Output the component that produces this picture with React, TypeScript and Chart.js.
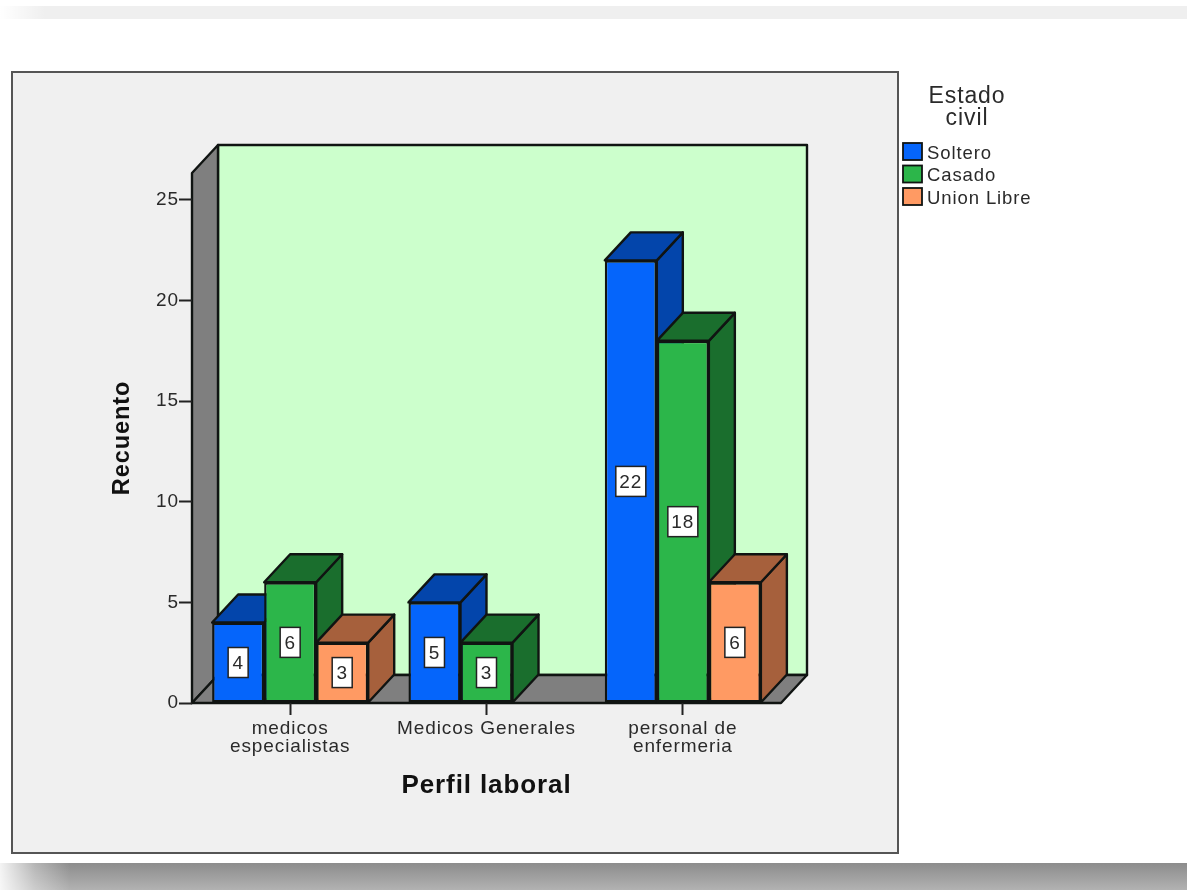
import { useEffect, useRef } from "react";
import { Chart, registerables } from "chart.js";

Chart.register(...registerables);

// Chart content
const categories = [["medicos", "especialistas"], "Medicos Generales", ["personal de", "enfermeria"]];
const soltero = [4, 5, 22];
const casado = [6, 3, 18];
const unionLibre = [3, null, 6];
const seriesNames = ["Soltero", "Casado", "Union Libre"];
const legendTitle = ["Estado", "civil"];
const xTitle = "Perfil laboral";
const yTitle = "Recuento";
const yTicks = [0, 5, 10, 15, 20, 25];

// Face colours and the offset of the extruded depth
const frontColors = ["#0565fb", "#2cb64a", "#ff9a63"];
const sideColors = ["#0345ab", "#1a6e2d", "#a6603c"];
const edge = "#101412";
const ink = "#2a2a2a";
const DX = 26;
const DY = 28;
const FONT = "'Liberation Sans', Arial, sans-serif";

const poly = (ctx: CanvasRenderingContext2D, pts: number[][], fill: string, lw = 2.4) => {
  ctx.beginPath();
  pts.forEach(([x, y], i) => (i ? ctx.lineTo(x, y) : ctx.moveTo(x, y)));
  ctx.closePath();
  ctx.fillStyle = fill;
  ctx.fill();
  ctx.lineWidth = lw;
  ctx.lineJoin = "round";
  ctx.strokeStyle = edge;
  ctx.stroke();
};

// Page backdrop, grey panel and the three walls of the box
const framePlugin = {
  id: "frame",
  beforeDraw(chart: any) {
    const { ctx, chartArea: a } = chart;
    ctx.letterSpacing = "0.9px";
    ctx.save();
    ctx.fillStyle = "#ffffff";
    ctx.fillRect(0, 0, chart.width, chart.height);

    ctx.fillStyle = "#efefef";
    ctx.fillRect(0, 6, chart.width, 13);
    const topFade = ctx.createLinearGradient(0, 0, 45, 0);
    topFade.addColorStop(0, "rgba(255,255,255,1)");
    topFade.addColorStop(1, "rgba(255,255,255,0)");
    ctx.fillStyle = topFade;
    ctx.fillRect(0, 6, 45, 13);

    const shadow = ctx.createLinearGradient(0, 863, 0, 890);
    shadow.addColorStop(0, "#8c8c8c");
    shadow.addColorStop(1, "#b2b2b2");
    ctx.fillStyle = shadow;
    ctx.fillRect(0, 863, chart.width, 27);
    const fade = ctx.createLinearGradient(0, 0, 70, 0);
    fade.addColorStop(0, "rgba(255,255,255,0.9)");
    fade.addColorStop(0.5, "rgba(255,255,255,0.35)");
    fade.addColorStop(1, "rgba(255,255,255,0)");
    ctx.fillStyle = fade;
    ctx.fillRect(0, 863, 70, 27);

    ctx.fillStyle = "#f0f0f0";
    ctx.fillRect(12, 72, 886, 781);
    ctx.strokeStyle = "#555555";
    ctx.lineWidth = 2;
    ctx.strokeRect(12, 72, 886, 781);

    const { left: l, right: r, top: t, bottom: b } = a;
    poly(ctx, [[l + DX, t - DY], [r + DX, t - DY], [r + DX, b - DY], [l + DX, b - DY]], "#ccffcc");
    poly(ctx, [[l, t], [l + DX, t - DY], [l + DX, b - DY], [l, b]], "#7f7f7f");
    poly(ctx, [[l, b], [l + DX, b - DY], [r + DX, b - DY], [r, b]], "#7f7f7f");
    ctx.restore();
  },
};

// Top and side faces of every bar, painted back to front
const depthPlugin = {
  id: "depth",
  beforeDatasetsDraw(chart: any) {
    const { ctx } = chart;
    ctx.save();
    chart.data.datasets.forEach((ds: any, di: number) => {
      chart.getDatasetMeta(di).data.forEach((el: any, i: number) => {
        if (ds.data[i] == null) return;
        const l = el.x - el.width / 2;
        const r = el.x + el.width / 2;
        poly(ctx, [[r, el.y], [r + DX, el.y - DY], [r + DX, el.base - DY], [r, el.base]], sideColors[di]);
        poly(ctx, [[l, el.y], [l + DX, el.y - DY], [r + DX, el.y - DY], [r, el.y]], sideColors[di]);
      });
    });
    ctx.restore();
  },
};

// White value tags in the middle of the bars, then the legend
const annotatePlugin = {
  id: "annotate",
  afterDatasetsDraw(chart: any) {
    const { ctx } = chart;
    ctx.save();
    ctx.textAlign = "center";
    ctx.textBaseline = "middle";
    ctx.font = `19px ${FONT}`;
    chart.data.datasets.forEach((ds: any, di: number) => {
      chart.getDatasetMeta(di).data.forEach((el: any, i: number) => {
        const v = ds.data[i];
        if (v == null) return;
        const cy = (el.y + el.base) / 2;
        const w = String(v).length > 1 ? 30 : 20;
        ctx.fillStyle = "#ffffff";
        ctx.fillRect(el.x - w / 2, cy - 15, w, 30);
        ctx.strokeStyle = "#222222";
        ctx.lineWidth = 1.5;
        ctx.strokeRect(el.x - w / 2, cy - 15, w, 30);
        ctx.fillStyle = ink;
        ctx.fillText(String(v), el.x, cy + 1);
      });
    });

    ctx.font = `23px ${FONT}`;
    ctx.fillStyle = ink;
    legendTitle.forEach((line, i) => ctx.fillText(line, 967, 97 + i * 21.5));

    ctx.font = `18.5px ${FONT}`;
    ctx.textAlign = "left";
    seriesNames.forEach((name, i) => {
      const y = 151.5 + i * 22.5;
      ctx.fillStyle = frontColors[i];
      ctx.fillRect(903, y - 8.5, 19, 17);
      ctx.strokeStyle = edge;
      ctx.lineWidth = 1.8;
      ctx.strokeRect(903, y - 8.5, 19, 17);
      ctx.fillStyle = ink;
      ctx.fillText(name, 927, y + 2);
    });
    ctx.restore();
  },
};

export default function App() {
  const ref = useRef<HTMLCanvasElement>(null);
  useEffect(() => {
    const chart = new Chart(ref.current!, {
      type: "bar",
      data: {
        labels: categories as any,
        datasets: [soltero, casado, unionLibre].map((data, i) => ({
          label: seriesNames[i],
          data,
          backgroundColor: frontColors[i],
          borderColor: edge,
          borderWidth: 2.4,
          borderSkipped: false,
        })),
      },
      options: {
        responsive: false,
        animation: false,
        datasets: { bar: { categoryPercentage: 0.795, barPercentage: 1 } },
        layout: { padding: { left: 100, top: 173, right: 406, bottom: 89 } },
        plugins: { legend: { display: false }, tooltip: { enabled: false } },
        scales: {
          x: {
            afterFit: (s: any) => {
              s.height = 98;
            },
            grid: { offset: false, drawOnChartArea: false, tickLength: 12, tickWidth: 2, tickColor: "#222222" },
            border: { display: false },
            ticks: {
              maxRotation: 0,
              autoSkip: false,
              padding: 5,
              color: ink,
              font: { family: FONT, size: 19, lineHeight: 0.95 },
            },
            title: {
              display: true,
              text: xTitle,
              color: "#111111",
              font: { family: FONT, size: 26, weight: "bold" },
              padding: { top: 0, bottom: 0 },
            },
          },
          y: {
            min: 0,
            max: 26.34,
            afterFit: (s: any) => {
              s.width = 92;
            },
            afterBuildTicks: (s: any) => {
              s.ticks = yTicks.map((value) => ({ value }));
            },
            grid: { drawOnChartArea: false, tickLength: 13, tickWidth: 2, tickColor: "#222222" },
            border: { display: false },
            ticks: {
              includeBounds: false,
              padding: 0,
              color: ink,
              font: { family: FONT, size: 19 },
            },
            title: {
              display: true,
              text: yTitle,
              color: "#111111",
              font: { family: FONT, size: 23.5, weight: "bold" },
              padding: { top: 8, bottom: 0 },
            },
          },
        },
      },
      plugins: [framePlugin, depthPlugin, annotatePlugin],
    } as any);
    return () => chart.destroy();
  }, []);
  return (
    <div style={{ position: "fixed", left: 0, top: 0, width: 1187, height: 890 }}>
      <canvas ref={ref} width={1187} height={890} style={{ display: "block" }} />
    </div>
  );
}
